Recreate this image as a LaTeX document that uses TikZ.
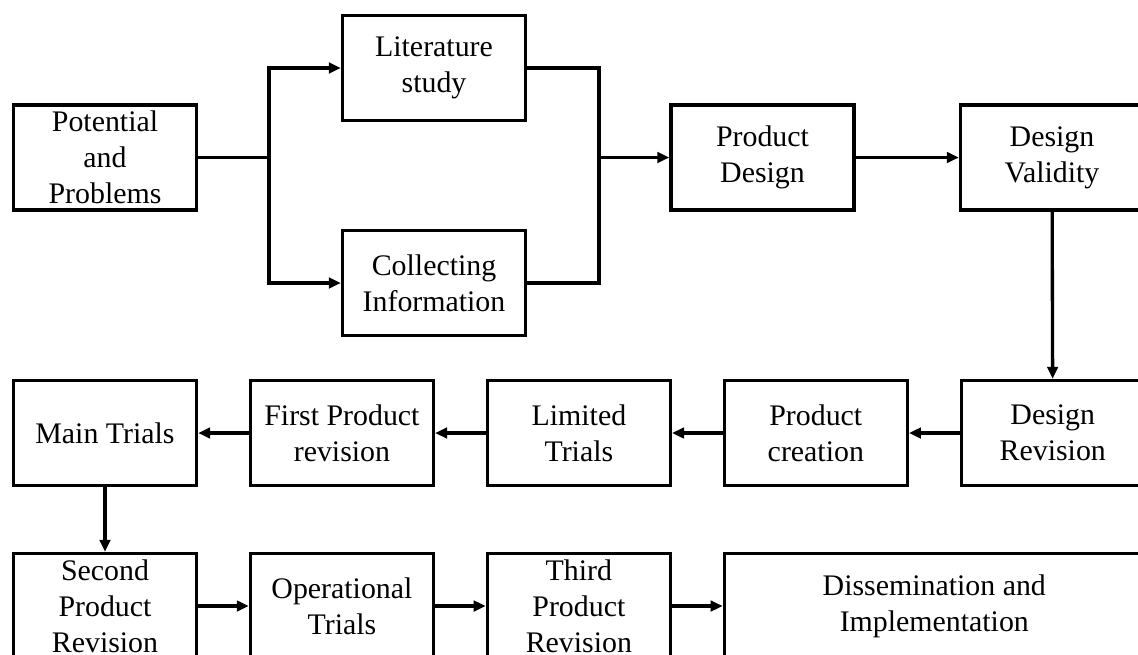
\documentclass[tikz,border=0pt]{standalone}
\usepackage{fontspec}
\setmainfont{Liberation Serif}
\usetikzlibrary{positioning,arrows.meta}
\begin{document}
\begin{tikzpicture}[x=0.02cm,y=-0.02cm,node distance=1.013cm]
	\tikzstyle{stage}=[draw,line width=1.9pt,minimum width=3.66cm,minimum height=2.1cm,align=center,inner sep=2pt,font=\fontsize{17}{20.5}\selectfont]
	\tikzstyle{link}=[line width=1.9pt]
	\tikzstyle{flow}=[link,-{Triangle[length=0.24cm,width=0.21cm]}]
	\clip (0,0) rectangle (1138,654);
	% first row
	\node[stage] (potential) at (105,157.5) {Potential\\and\\Problems};
	\node[stage] (literature) at (434,68) {Literature\\study};
	\node[stage] (collecting) at (434,283) {Collecting\\Information};
	\node[stage] (design) at (762.5,157.5) {Product\\Design};
	\node[stage] (validity) at (1052,157.5) {Design\\Validity};
	\coordinate (split) at (269,157.5);
	\coordinate (join) at (599,157.5);
	% second row
	\node[stage] (maintrials) at (105,433) {Main Trials};
	\node[stage,right=of maintrials] (firstrev) {First Product\\revision};
	\node[stage,right=of firstrev] (limited) {Limited\\Trials};
	\node[stage,right=of limited] (creation) {Product\\creation};
	\node[stage,right=of creation] (revision) {Design\\Revision};
	% third row
	\node[stage] (secondrev) at (105,606) {Second\\Product\\Revision};
	\node[stage,right=of secondrev] (operational) {Operational\\Trials};
	\node[stage,right=of operational] (thirdrev) {Third\\Product\\Revision};
	\node[stage,right=of thirdrev,minimum width=8.4cm] (dissemination) {Dissemination and\\Implementation};
	% connectors
	\draw[link] (potential) -- (split);
	\draw[flow] (split) |- (literature);
	\draw[flow] (split) |- (collecting);
	\draw[link] (literature) -| (join);
	\draw[link] (collecting) -| (join);
	\draw[flow] (join) -- (design);
	\draw[flow] (design) -- (validity);
	\draw[flow] (validity) -- (revision);
	\draw[flow] (revision) -- (creation);
	\draw[flow] (creation) -- (limited);
	\draw[flow] (limited) -- (firstrev);
	\draw[flow] (firstrev) -- (maintrials);
	\draw[flow] (maintrials) -- (secondrev);
	\draw[flow] (secondrev) -- (operational);
	\draw[flow] (operational) -- (thirdrev);
	\draw[flow] (thirdrev) -- (dissemination);
\end{tikzpicture}
\end{document}
